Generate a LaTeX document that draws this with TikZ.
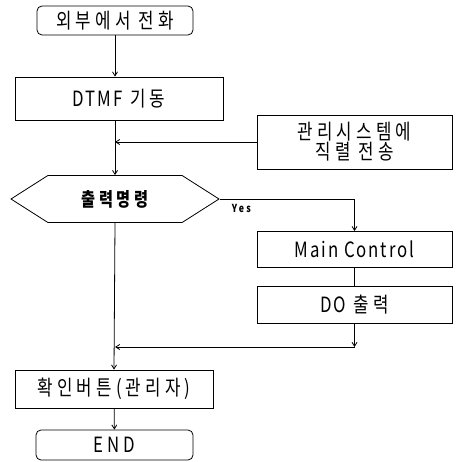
\documentclass[tikz,border=0pt]{standalone}
\usepackage{fontspec}
\usepackage{tikz}
\usetikzlibrary{arrows.meta,shapes.symbols}
\newfontfamily\kr[LetterSpace=20,FakeStretch=0.8]{Noto Sans CJK KR}
\newfontfamily\lat[LetterSpace=9,FakeStretch=0.8]{Noto Sans CJK KR}

\begin{document}
\begin{tikzpicture}[x=1pt,y=-1pt,line width=0.8pt,
    box/.style={draw,font=\kr\fontsize{21}{20}\selectfont,inner sep=2pt},
    term/.style={box,rounded corners=5pt},
    flow/.style={-{Straight Barb[length=4pt,width=5pt]}}]
    \useasboundingbox (0,0) rectangle (456,462);
    % main column
    \node[term,minimum width=156pt,minimum height=29pt] (start) at (115,20.5) {외부에서 전화};
    \node[box,minimum width=208pt,minimum height=43pt] (dtmf) at (119,98.5) {{\lat DTMF} 기동};
    \node[box,minimum width=195pt,minimum height=54pt,align=center] (trans) at (354.5,142) {관리시스템에\\직렬 전송};
    \node[box,signal,signal to=west and east,signal pointer angle=65,
          minimum width=208pt,minimum height=47pt,font=\kr\bfseries\fontsize{19}{20}\selectfont] (cmd) at (115,199) {출력명령};
    % right branch
    \node[box,minimum width=195pt,minimum height=36pt] (mainc) at (354.5,249.5) {\lat Main Control};
    \node[box,minimum width=195pt,minimum height=37pt] (dout) at (354.5,304.5) {{\lat DO} 출력};
    \node[box,minimum width=198pt,minimum height=38pt] (confirm) at (114,389) {확인버튼(관리자)};
    \node[term,minimum width=157pt,minimum height=30pt] (stop) at (114.5,445) {END};
    \coordinate (join1) at (115,142);
    \coordinate (join2) at (115,347);
    % connectors
    \draw[flow] (start) -- (start |- dtmf.north);
    \draw[flow] (dtmf.south -| start) -- (cmd.north);
    \draw[flow] (trans.west) -- (join1);
    \draw[flow] (cmd.east) -- node[below,pos=0.16,yshift=-2pt,font=\kr\bfseries\fontsize{11}{12}\selectfont]{Yes} (cmd.east -| mainc) -- (mainc.north);
    \draw (mainc) -- (dout);
    \draw[flow] (dout.south) -- (dout.south |- join2);
    \draw[flow] (dout.south |- join2) -- (join2);
    \draw[flow] (cmd.south) -- (confirm.north);
    \draw[flow] (confirm) -- (stop);
\end{tikzpicture}
\end{document}
